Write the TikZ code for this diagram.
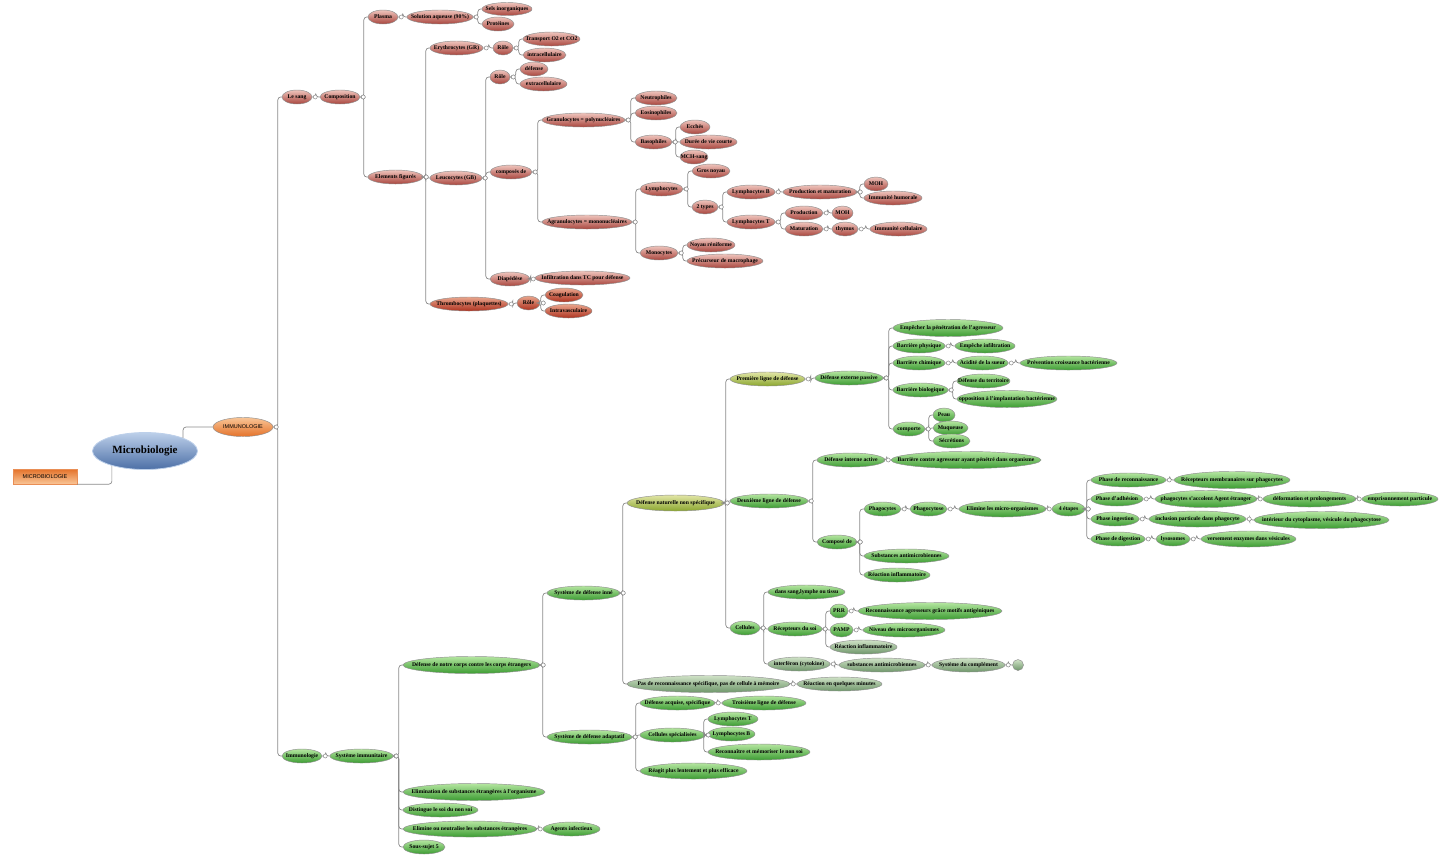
\documentclass[tikz,border=0pt]{standalone}
\usepackage{fontspec}
\setmainfont{Liberation Serif}
\newfontfamily\capsfont{Liberation Sans}
\usetikzlibrary{shapes.geometric}

\definecolor{bubline}{HTML}{8E8E8E}
\definecolor{linkgray}{HTML}{8A8A8A}
\definecolor{redtop}{HTML}{EFC4BC}
\definecolor{redbot}{HTML}{A9463E}
\definecolor{deeptop}{HTML}{E9A58C}
\definecolor{deepbot}{HTML}{AE3220}
\definecolor{grtop}{HTML}{B4E6A0}
\definecolor{grbot}{HTML}{3C9C32}
\definecolor{olitop}{HTML}{E2E6A6}
\definecolor{olibot}{HTML}{8AA62E}
\definecolor{sagetop}{HTML}{CFE2C6}
\definecolor{sagebot}{HTML}{6E966A}
\definecolor{orgtop}{HTML}{F9C596}
\definecolor{orgbot}{HTML}{E4722A}
\definecolor{blutop}{HTML}{BDD0EA}
\definecolor{blubot}{HTML}{4C6FA6}

\begin{document}
\begin{tikzpicture}[x=1pt,y=-1pt,
    bub/.style={ellipse,draw=bubline,line width=0.45pt,inner sep=0pt,minimum height=14pt,
      font=\bfseries\fontsize{5.7}{6}\selectfont,
      execute at begin node={\hbox to 0pt\bgroup\hss},
      execute at end node={\hss\egroup}},
    rb/.style={bub,top color=redtop,bottom color=redbot},
    rd/.style={bub,top color=deeptop,bottom color=deepbot},
    gb/.style={bub,top color=grtop,bottom color=grbot},
    ob/.style={bub,top color=olitop,bottom color=olibot},
    sb/.style={bub,top color=sagetop,bottom color=sagebot},
    tall/.style={minimum height=17pt},
    link/.style={draw=linkgray,line width=0.7pt,rounded corners=3pt},
    knob/.style={circle,draw=linkgray,fill=white,line width=0.5pt,inner sep=0pt,minimum size=4pt}
  ]
  \useasboundingbox (0,0) rectangle (1450,855);

  % root
  \node[rectangle,draw=orgbot!80,top color=orgbot,bottom color=orgtop,minimum width=64pt,minimum height=15pt,inner sep=0pt,font=\capsfont\fontsize{5.5}{6}\selectfont] (mbrect) at (45,476.5) {MICROBIOLOGIE};
  \node[bub,draw=blutop,line width=0.8pt,top color=blutop,bottom color=blubot,minimum width=105pt,minimum height=37pt,font=\bfseries\fontsize{11}{12}\selectfont] (micro) at (145,451) {Microbiologie};
  \node[bub,top color=orgtop,bottom color=orgbot,minimum width=60pt,minimum height=19pt,font=\capsfont\fontsize{5.5}{6}\selectfont] (immun) at (243,427) {IMMUNOLOGIE};

  % le sang
  \node[rb,minimum width=30pt] (sang) at (297,97) {Le sang};
  \node[rb,minimum width=40pt] (compo) at (340,97) {Composition};
  \node[rb,minimum width=30pt] (plasma) at (383,17) {Plasma};
  \node[rb,minimum width=66pt] (solaq) at (440,17) {Solution aqueuse (90\%)};
  \node[rb,minimum width=50pt,minimum height=13pt] (sels) at (507,9) {Sels inorganiques};
  \node[rb,minimum width=32pt] (prot) at (498,24) {Protéines};
  \node[rb,minimum width=55pt] (elem) at (395.5,177) {Elements figurés};
  \node[rb,minimum width=53pt] (ery) at (456.5,48) {Erythrocytes (GR)};
  \node[rb,minimum width=20pt] (roleGR) at (503,48) {Rôle};
  \node[rb,minimum width=57pt] (transp) at (551.5,39) {Transport O2 et CO2};
  \node[rb,minimum width=43pt] (intraC) at (544.5,55) {intracellulaire};
  \node[rb,minimum width=52pt] (leuco) at (456,178) {Leucocytes (GB)};
  \node[rb,minimum width=20pt] (roleGB) at (500,77) {Rôle};
  \node[rb,minimum width=28pt] (defGB) at (534,69) {défense};
  \node[rb,minimum width=47pt] (extraC) at (543.5,84) {extracellulaire};
  \node[rb,minimum width=42pt] (compos) at (511,172) {composés de};
  \node[rb,minimum width=83pt] (granu) at (583.5,120) {Granulocytes = polynucléaires};
  \node[rb,minimum width=90pt] (agranu) at (587,222) {Agranulocytes = mononucléaires};
  \node[rb,minimum width=42pt] (neutro) at (656,98) {Neutrophiles};
  \node[rb,minimum width=42pt] (eosino) at (656,113) {Eosinophiles};
  \node[rb,minimum width=37pt] (baso) at (653.5,142) {Basophiles};
  \node[rb,minimum width=30pt] (ecch) at (695,127) {Ecchés};
  \node[rb,minimum width=57pt] (duree) at (708.5,142) {Durée de vie courte};
  \node[rb,minimum width=28pt] (mchs) at (694,157) {MCH-sang};
  \node[rb,minimum width=43pt] (lympho) at (661.5,189) {Lymphocytes};
  \node[rb,minimum width=38pt] (gros) at (711,171) {Gros noyau};
  \node[rb,minimum width=26pt] (types) at (705,207) {2 types};
  \node[rb,minimum width=48pt] (lymB) at (751,192) {Lymphocytes B};
  \node[rb,minimum width=74pt] (prodmat) at (820,192) {Production et maturation};
  \node[rb,minimum width=24pt] (mohB) at (876,184) {MOH};
  \node[rb,minimum width=58pt] (humor) at (893,198) {Immunité humorale};
  \node[rb,minimum width=48pt] (lymT) at (751,222) {Lymphocytes T};
  \node[rb,minimum width=38pt] (prodT) at (804,213) {Production};
  \node[rb,minimum width=21pt] (mohT) at (842.5,213) {MOH};
  \node[rb,minimum width=38pt] (matur) at (804,229) {Maturation};
  \node[rb,minimum width=26pt] (thymus) at (845,229) {thymus};
  \node[rb,minimum width=57pt] (cellul) at (898.5,229) {Immunité cellulaire};
  \node[rb,minimum width=38pt] (mono) at (659,253) {Monocytes};
  \node[rb,minimum width=48pt] (noyau) at (711,245) {Noyau réniforme};
  \node[rb,minimum width=76pt] (precur) at (725,261) {Précurseur de macrophage};
  \node[rb,minimum width=40pt] (diap) at (510,279) {Diapédèse};
  \node[rb,minimum width=95pt] (infil) at (582.5,278) {Infiltration dans TC pour défense};
  \node[rd,minimum width=78pt] (thrombo) at (469,304) {Thrombocytes (plaquettes)};
  \node[rd,minimum width=23pt] (roleTh) at (528.5,303) {Rôle};
  \node[rd,minimum width=38pt] (coag) at (564,295) {Coagulation};
  \node[rd,minimum width=47pt] (intraV) at (568.5,311) {Intravasculaire};

  % immunologie
  \node[gb,minimum width=40pt] (immunol) at (302,756) {Immunologie};
  \node[gb,minimum width=63pt] (sysimm) at (361.5,756) {Système immunitaire};
  \node[gb,tall,minimum width=137pt] (defcorps) at (471.5,665) {Défense de notre corps contre les corps étrangers};
  \node[gb,tall,minimum width=142pt] (elimin) at (474,792) {Elimination de substances étrangères à l'organisme};
  \node[gb,minimum width=75pt] (disting) at (440.5,810) {Distingue le soi du non soi};
  \node[gb,minimum width=134pt,minimum height=16pt] (elimneut) at (470,829) {Elimine ou neutralise les substances étrangères};
  \node[gb,minimum width=57pt] (agents) at (571.5,829) {Agents infectieux};
  \node[gb,minimum width=42pt] (sous) at (424,847) {Sous-sujet 5};
  \node[gb,minimum width=73pt] (inne) at (583.5,593) {Système de défense inné};
  \node[gb,minimum width=85pt] (adapt) at (589.5,737) {Système de défense adaptatif};
  \node[ob,minimum width=97pt,minimum height=16pt] (natur) at (675.5,503) {Défense naturelle non spécifique};
  \node[sb,tall,minimum width=163pt] (pasrec) at (708.5,684) {Pas de reconnaissance spécifique, pas de cellule à mémoire};
  \node[sb,minimum width=85pt] (reacmin) at (839.5,684) {Réaction en quelques minutes};
  \node[ob,minimum width=75pt] (prem) at (767.5,379) {Première ligne de défense};
  \node[gb,minimum width=68pt] (ext) at (849,378) {Défense externe passive};
  \node[gb,tall,minimum width=110pt] (empech) at (948,328) {Empêcher la pénétration de l'agresseur};
  \node[gb,minimum width=52pt] (bphys) at (919,346) {Barrière physique};
  \node[gb,minimum width=60pt] (empinf) at (985,346) {Empêche infiltration};
  \node[gb,minimum width=52pt] (bchim) at (919,363) {Barrière chimique};
  \node[gb,minimum width=51pt] (acid) at (982.5,363) {Acidité de la sueur};
  \node[gb,minimum width=97pt] (prevc) at (1068.5,363) {Prévention croissance bactérienne};
  \node[gb,minimum width=55pt] (bbio) at (920.5,390) {Barrière biologique};
  \node[gb,minimum width=53pt] (terr) at (983.5,381) {Défense du territoire};
  \node[gb,tall,minimum width=100pt] (oppo) at (1007,399) {opposition à l'implantation bactérienne};
  \node[gb,minimum width=32pt] (comporte) at (909,429) {comporte};
  \node[gb,minimum width=22pt] (peau) at (944,415) {Peau};
  \node[gb,minimum width=35pt] (muq) at (950.5,428) {Muqueuse};
  \node[gb,minimum width=37pt] (secr) at (951.5,441) {Sécrétions};
  \node[gb,minimum width=78pt] (deux) at (769,501) {Deuxième ligne de défense};
  \node[gb,minimum width=68pt] (interne) at (851,460) {Défense interne active};
  \node[gb,tall,minimum width=150pt] (barcontre) at (966,460) {Barrière contre agresseur ayant pénétré dans organisme};
  \node[gb,minimum width=40pt] (compose) at (837,542) {Composé de};
  \node[gb,minimum width=37pt] (phagoc) at (882.5,509) {Phagocytes};
  \node[gb,minimum width=37pt] (phagose) at (928.5,509) {Phagocytose};
  \node[gb,minimum width=87pt,minimum height=16pt] (elimmo) at (1002.5,509) {Elimine les micro-organismes};
  \node[gb,minimum width=33pt] (etapes) at (1068.5,509) {4 étapes};
  \node[gb,minimum width=75pt] (ph1) at (1128.5,480) {Phase de reconnaissance};
  \node[gb,tall,minimum width=116pt] (recmem) at (1232,480) {Récepteurs membranaires sur phagocytes};
  \node[gb,minimum width=52pt] (ph2) at (1117,499) {Phase d'adhésion};
  \node[gb,tall,minimum width=102pt] (accol) at (1206,499) {phagocytes s'accolent Agent étranger};
  \node[gb,minimum width=93pt,minimum height=16pt] (deform) at (1309.5,499) {déformation et prolongements};
  \node[gb,minimum width=76pt] (empris) at (1400,499) {emprisonnement particule};
  \node[gb,minimum width=48pt] (ph3) at (1115,519) {Phase ingestion};
  \node[gb,minimum width=97pt,minimum height=16pt] (inclus) at (1197.5,519) {inclusion particule dans phagocyte};
  \node[gb,tall,minimum width=135pt] (interieur) at (1321.5,520) {intérieur du cytoplasme, vésicule du phagocytose};
  \node[gb,minimum width=54pt] (ph4) at (1118,539) {Phase de digestion};
  \node[gb,minimum width=34pt] (lyso) at (1173,539) {lysosomes};
  \node[gb,minimum width=95pt,minimum height=16pt] (versem) at (1248.5,539) {versement enzymes dans vésicules};
  \node[gb,minimum width=85pt] (subst) at (906.5,556) {Substances antimicrobiennes};
  \node[gb,minimum width=66pt] (reacinf) at (897,575) {Réaction inflammatoire};
  \node[gb,minimum width=30pt] (cells) at (745,628) {Cellules};
  \node[gb,minimum width=77pt] (sangly) at (806.5,592) {dans sang,lymphe ou tissu};
  \node[gb,minimum width=54pt] (recsoi) at (795,629) {Récepteurs du soi};
  \node[gb,minimum width=18pt] (prr) at (839,611) {PRR};
  \node[gb,tall,minimum width=144pt] (recagr) at (930,611) {Reconnaissance agresseurs grâce motifs antigéniques};
  \node[gb,minimum width=23pt] (pamp) at (841.5,630) {PAMP};
  \node[gb,minimum width=82pt] (niveau) at (904,630) {Niveau des microorganismes};
  \node[sb,minimum width=67pt] (reacinf2) at (863.5,647) {Réaction inflammatoire};
  \node[sb,minimum width=62pt] (interf) at (799,664) {interféron (cytokine)};
  \node[sb,minimum width=86pt] (subst2) at (882,665) {substances antimicrobiennes};
  \node[sb,minimum width=73pt] (complem) at (968.5,665) {Système du complément};
  \node[sb,minimum width=11pt,minimum height=11pt] (empty) at (1018,665) {};
  \node[gb,minimum width=75pt] (acq) at (677.5,703) {Défense acquise, spécifique};
  \node[gb,minimum width=84pt] (troisi) at (764,703) {Troisième ligne de défense};
  \node[gb,minimum width=65pt] (cellspec) at (672.5,735) {Cellules spécialisées};
  \node[gb,minimum width=50pt] (lymT2) at (733,719) {Lymphocytes T};
  \node[gb,minimum width=47pt] (lymB2) at (731.5,734) {Lymphocytes B};
  \node[gb,minimum width=102pt,minimum height=16pt] (reconn) at (759,752) {Reconnaître et mémoriser le non soi};
  \node[gb,minimum width=107pt,minimum height=16pt] (reagit) at (693.5,771) {Réagit plus lentement et plus efficace};

  % connectors
  \draw[link] (mbrect.south east) -| (micro.204);
  \draw[link] (micro.19) |- (immun.west);
  \foreach \p/\c in {immun/sang, immun/immunol,
      sang/compo, compo/plasma, compo/elem, plasma/solaq, solaq/sels, solaq/prot,
      elem/ery, elem/leuco, elem/thrombo, ery/roleGR, roleGR/transp, roleGR/intraC,
      leuco/roleGB, leuco/compos, leuco/diap, roleGB/defGB, roleGB/extraC,
      compos/granu, compos/agranu, granu/neutro, granu/eosino, granu/baso,
      baso/ecch, baso/duree, baso/mchs, agranu/lympho, agranu/mono,
      lympho/gros, lympho/types, types/lymB, types/lymT, lymB/prodmat,
      prodmat/mohB, prodmat/humor, lymT/prodT, lymT/matur, prodT/mohT,
      matur/thymus, thymus/cellul, mono/noyau, mono/precur, diap/infil,
      thrombo/roleTh, roleTh/coag, roleTh/intraV,
      immunol/sysimm, sysimm/defcorps, sysimm/elimin, sysimm/disting,
      sysimm/elimneut, sysimm/sous, elimneut/agents, defcorps/inne, defcorps/adapt,
      inne/natur, inne/pasrec, pasrec/reacmin, natur/prem, natur/deux, natur/cells,
      prem/ext, ext/empech, ext/bphys, ext/bchim, ext/bbio, ext/comporte,
      bphys/empinf, bchim/acid, acid/prevc, bbio/terr, bbio/oppo,
      comporte/peau, comporte/muq, comporte/secr,
      deux/interne, deux/compose, interne/barcontre,
      compose/phagoc, compose/subst, compose/reacinf,
      phagoc/phagose, phagose/elimmo, elimmo/etapes,
      etapes/ph1, etapes/ph2, etapes/ph3, etapes/ph4,
      ph1/recmem, ph2/accol, accol/deform, deform/empris,
      ph3/inclus, inclus/interieur, ph4/lyso, lyso/versem,
      cells/sangly, cells/recsoi, cells/interf,
      recsoi/prr, recsoi/pamp, recsoi/reacinf2, prr/recagr, pamp/niveau,
      interf/subst2, subst2/complem, complem/empty,
      adapt/acq, adapt/cellspec, adapt/reagit, acq/troisi,
      cellspec/lymT2, cellspec/lymB2, cellspec/reconn}{
    \draw[link] (\p.east) -| ([xshift=-4pt]\c.west) -- (\c.west);
    \node[knob] at ([xshift=3pt]\p.east) {};
  }
\end{tikzpicture}
\end{document}
